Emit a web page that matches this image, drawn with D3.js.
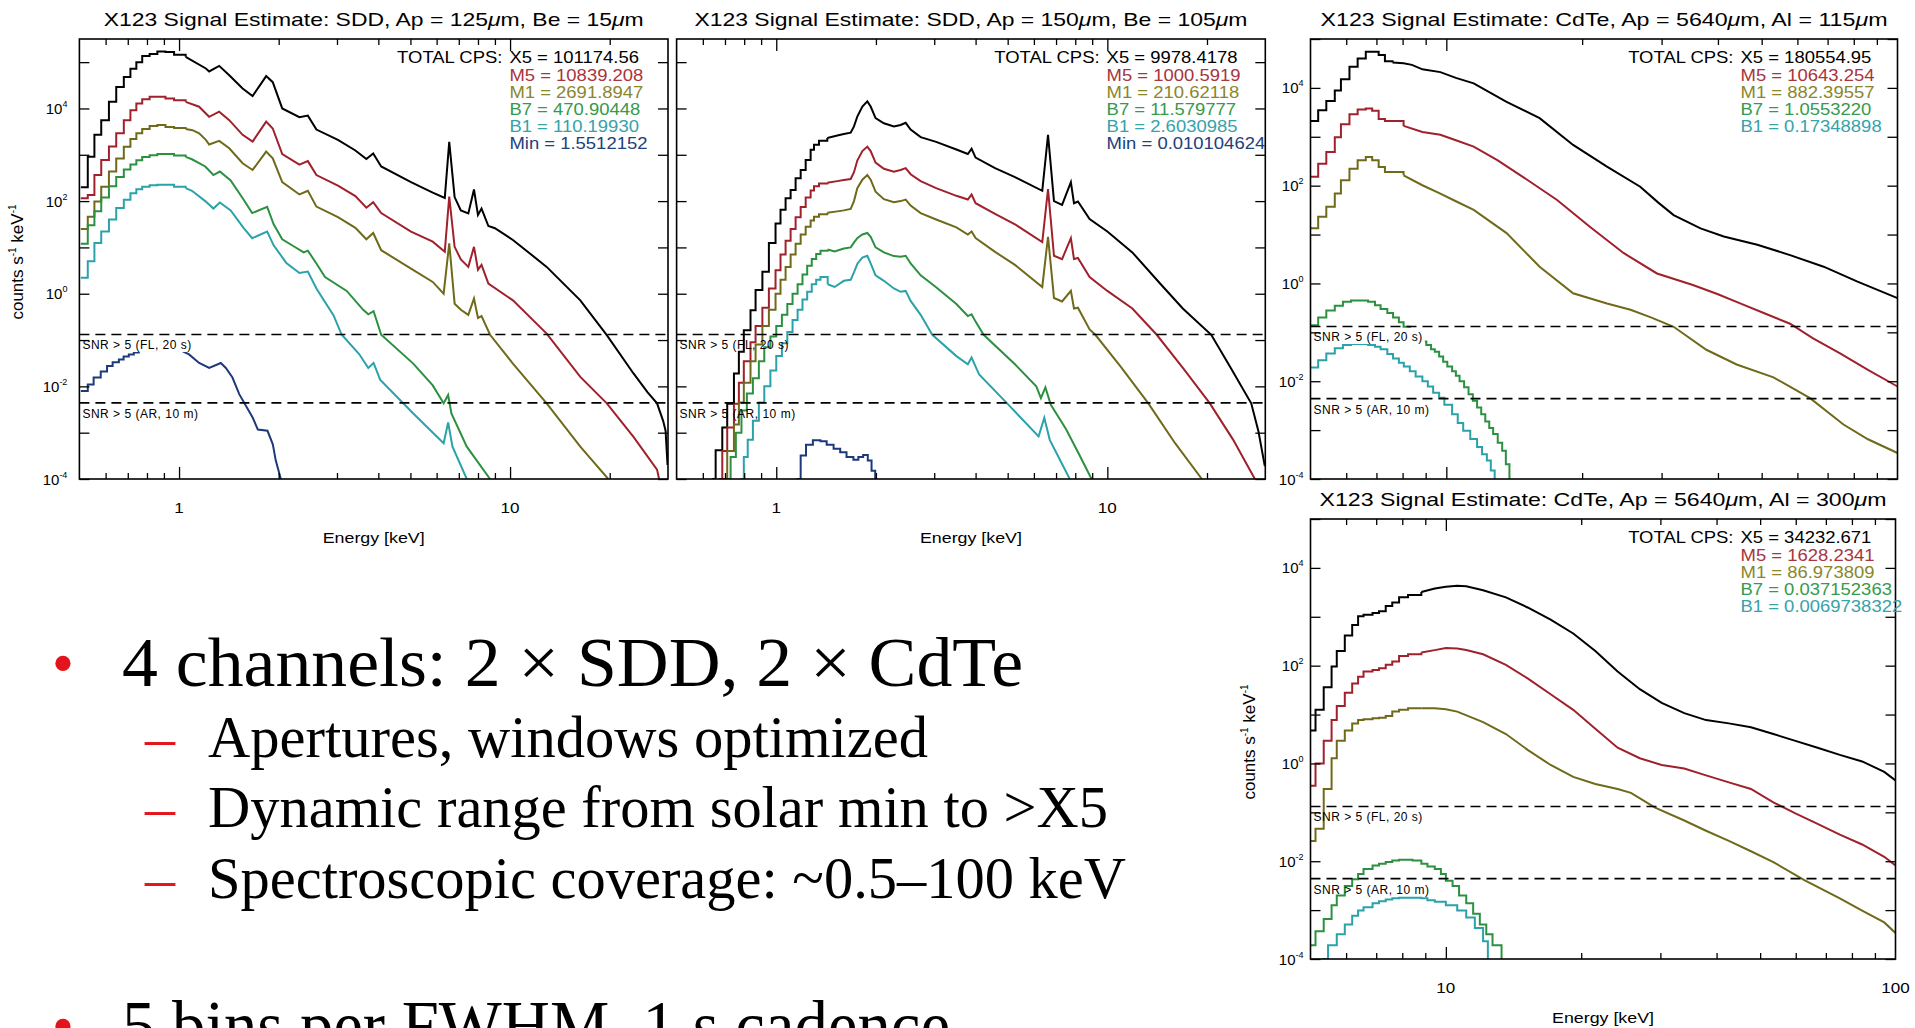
<!DOCTYPE html>
<html>
<head>
<meta charset="utf-8">
<script src="https://cdn.jsdelivr.net/npm/d3@7"></script>
<style>
  body { margin: 0; background: #fff; }
  svg text { font-family: "Liberation Sans", Arial, Helvetica, sans-serif; }
  .slide text { font-family: "Liberation Serif", "Times New Roman", serif; }
</style>
</head>
<body>
<script>
// ---- series names / colours ----
var seriesNames = ['X5', 'M5', 'M1', 'B7', 'B1', 'Min'];
var lineColors = ['#000000', '#a0202c', '#6f6a1a', '#2b9140', '#2aa2aa', '#1c3a7a'];
var textColors = ['#000000', '#a8343c', '#8a862c', '#359a4c', '#36a2aa', '#22407c'];

// ---- total count rates (legend) ----
var sdd1Totals = ['101174.56', '10839.208', '2691.8947', '470.90448', '110.19930', '1.5512152'];
var sdd2Totals = ['9978.4178', '1000.5919', '210.62118', '11.579777', '2.6030985', '0.010104624'];
var cdte1Totals = ['180554.95', '10643.254', '882.39557', '1.0553220', '0.17348898'];
var cdte2Totals = ['34232.671', '1628.2341', '86.973809', '0.037152363', '0.0069738322'];

// ---- titles ----
var sdd1Title = ['X123 Signal Estimate: SDD, Ap = 125', '\u03bc', 'm, Be = 15', '\u03bc', 'm'];
var sdd2Title = ['X123 Signal Estimate: SDD, Ap = 150', '\u03bc', 'm, Be = 105', '\u03bc', 'm'];
var cdte1Title = ['X123 Signal Estimate: CdTe, Ap = 5640', '\u03bc', 'm, Al = 115', '\u03bc', 'm'];
var cdte2Title = ['X123 Signal Estimate: CdTe, Ap = 5640', '\u03bc', 'm, Al = 300', '\u03bc', 'm'];

// ---- axis ticks ----
var sddMajor = [1, 10];
var sddMinor = [0.6, 0.7, 0.8, 0.9, 2, 3, 4, 5, 6, 7, 8, 9, 20];
var cdteMajor = [10];
var cdteMinor = [6, 7, 8, 9, 20, 30, 40, 50, 60, 70, 80, 90];
var sddLabels = [1, 10];
var cdteLabels = [10, 100];
var yTickValues = [1e-4, 1e-3, 1e-2, 1e-1, 1, 10, 1e2, 1e3, 1e4, 1e5];
var yLabelExps = [-4, -2, 0, 2, 4];

// ---- SNR thresholds ----
var snrLevels = [0.132, 0.0044];
var snrLabels = ['SNR > 5 (FL, 20 s)', 'SNR > 5 (AR, 10 m)'];

// ---- SDD, Ap 125um, Be 15um : [keV, counts/s/keV] ----
var sdd1X5 = [[0.505,200],[0.53,910],[0.555,2.7e3],[0.582,5.6e3],[0.614,1.4e4],[0.646,2.9e4],[0.681,4.8e4],[0.713,7.2e4],[0.743,1.0e5],[0.774,1.35e5],[0.815,1.5e5],[0.86,1.7e5],[0.91,1.65e5],[0.966,1.45e5],[1.047,1.3e5],[1.205,7.3e4],[1.233,6.3e4],[1.322,8.3e4],[1.418,5.2e4],[1.556,2.7e4],[1.668,1.85e4],[1.833,5.0e4],[1.919,3.7e4],[2.05,1.0e4],[2.31,6.5e3],[2.45,7.0e3],[2.6,3.5e3],[3.02,2.1e3],[3.41,1.24e3],[3.68,810],[3.86,1.07e3],[4.08,560],[5.02,257],[5.84,152],[6.35,117],[6.55,1.9e3],[6.8,122],[7.1,63],[7.48,54],[7.78,178],[8.0,50],[8.2,69],[8.6,29],[9.0,26],[10.2,14.5],[12.9,3.8],[16.3,0.72],[19.6,0.128],[23.6,0.019],[26,7.5e-3],[27.8,4.3e-3],[29,1.8e-3],[29.5,1.1e-3],[29.9,2e-4]];
var sdd1M5 = [[0.505,115],[0.53,135],[0.555,365],[0.582,775],[0.614,1.5e3],[0.646,2.9e3],[0.681,5.6e3],[0.713,9.2e3],[0.743,1.28e4],[0.774,1.59e4],[0.815,1.78e4],[0.86,1.78e4],[0.91,1.64e4],[0.966,1.51e4],[1.047,1.39e4],[1.15,1.09e4],[1.205,7.8e3],[1.233,6.6e3],[1.322,8.5e3],[1.418,5.6e3],[1.556,2.7e3],[1.668,1.92e3],[1.833,5.2e3],[1.919,3.7e3],[2.05,1.04e3],[2.31,615],[2.45,730],[2.6,365],[3.02,215],[3.41,128],[3.68,72],[3.86,95],[4.08,55],[5.02,22],[5.84,13.3],[6.35,8.1],[6.55,125],[6.8,10.3],[7.1,5.5],[7.48,3.8],[7.78,10.3],[8.0,3.3],[8.2,4.2],[8.6,1.66],[10.2,0.72],[12.9,0.138],[16.3,0.016],[19.6,4.3e-3],[23.6,8.1e-4],[27.8,1.6e-4],[28.2,1e-4]];
var sdd1M1 = [[0.505,25],[0.53,46],[0.555,98],[0.582,205],[0.614,435],[0.646,835],[0.681,1.49e3],[0.713,2.2e3],[0.743,2.9e3],[0.774,3.6e3],[0.815,4.2e3],[0.86,4.4e3],[0.91,4.0e3],[0.966,3.8e3],[1.047,3.6e3],[1.098,3.4e3],[1.15,2.9e3],[1.205,2.1e3],[1.233,1.67e3],[1.322,2.0e3],[1.418,1.38e3],[1.556,655],[1.668,470],[1.833,1.17e3],[1.919,835],[2.05,257],[2.31,139],[2.45,167],[2.6,76],[3.02,45],[3.41,26.5],[3.68,15],[3.86,20.5],[4.08,8.7],[5.02,3.5],[5.84,1.8],[6.3,1.0],[6.55,12.3],[6.8,0.61],[7.1,0.45],[7.48,0.35],[7.78,0.79],[8.0,0.3],[8.2,0.33],[8.7,0.13],[10.2,0.031],[12.9,4.3e-3],[16.3,5e-4],[18,2.2e-4],[19.8,1e-4]];
var sdd1B7 = [[0.505,12],[0.53,30],[0.555,60],[0.582,120],[0.614,210],[0.646,330],[0.681,480],[0.713,620],[0.743,760],[0.774,900],[0.815,980],[0.86,1.04e3],[0.91,1.04e3],[0.966,970],[1.047,900],[1.094,800],[1.2,560],[1.27,365],[1.328,435],[1.432,280],[1.566,108],[1.663,55],[1.846,75],[1.931,31.6],[2.05,15],[2.2,11],[2.38,7.8],[2.45,8.5],[2.6,4.5],[2.76,2.3],[3.21,1.15],[3.6,0.45],[3.73,0.36],[3.87,0.42],[4.08,0.13],[5.1,0.031],[5.84,0.0105],[6.3,4.3e-3],[6.5,6.5e-3],[6.65,2.6e-3],[7.4,5e-4],[8.7,1e-4]];
var sdd1B1 = [[0.505,2.2],[0.53,5],[0.555,12.4],[0.582,22],[0.614,40],[0.646,71],[0.681,107],[0.713,148],[0.743,180],[0.774,205],[0.815,220],[0.86,225],[0.91,225],[0.966,205],[1.047,190],[1.094,167],[1.2,100],[1.27,69],[1.328,93],[1.432,63],[1.566,26.5],[1.663,15.8],[1.846,22],[1.931,11.1],[2.11,4.6],[2.31,2.8],[2.45,3.0],[2.6,1.3],[2.93,0.34],[3.1,0.13],[3.5,0.05],[3.73,0.025],[3.87,0.032],[4.05,0.014],[5.1,2.6e-3],[6.3,5.9e-4],[6.5,1.66e-3],[6.7,5e-4],[7.4,1e-4]];
var sdd1Min = [[0.505,7.9e-3],[0.53,0.011],[0.552,0.0155],[0.58,0.021],[0.606,0.0276],[0.63,0.033],[0.658,0.038],[0.68,0.044],[0.705,0.049],[0.73,0.054],[0.756,0.058],[0.89,0.061],[1.023,0.058],[1.072,0.049],[1.15,0.032],[1.233,0.025],[1.337,0.032],[1.385,0.025],[1.45,0.0155],[1.52,6.8e-3],[1.67,2.1e-3],[1.73,1.17e-3],[1.85,1.1e-3],[1.92,5.6e-4],[1.96,2.5e-4],[2.03,1e-4]];

// ---- SDD, Ap 150um, Be 105um ----
var sdd2X5 = [[0.64,1e-4],[0.656,4.2e-4],[0.687,1.3e-3],[0.711,4.2e-3],[0.745,0.019],[0.771,0.056],[0.798,0.163],[0.836,0.44],[0.866,1.2],[0.908,3.0],[0.95,12.4],[0.995,33],[1.03,65],[1.067,115],[1.105,174],[1.144,310],[1.185,470],[1.227,775],[1.27,1.28e3],[1.30,1.64e3],[1.346,2.0e3],[1.426,2.3e3],[1.529,2.6e3],[1.6,2.8e3],[1.678,3.0e3],[1.717,4.1e3],[1.757,6.7e3],[1.82,1.1e4],[1.884,1.42e4],[1.928,1.1e4],[1.995,6.2e3],[2.114,4.8e3],[2.266,4.1e3],[2.374,4.4e3],[2.46,4.9e3],[2.546,3.5e3],[2.73,2.4e3],[3.04,1.9e3],[3.5,1.3e3],[3.79,1.04e3],[3.89,1.35e3],[4.0,870],[4.58,515],[5.26,330],[6.36,167],[6.62,2.7e3],[6.9,100],[7.3,83],[7.76,257],[7.93,90],[8.15,98],[8.84,41],[10,22],[11.9,7.8],[14.5,1.6],[16.9,0.48],[20.6,0.13],[23.6,0.025],[27.2,4.3e-3],[28.6,1.07e-3],[29.9,1.9e-4]];
var sdd2M5 = [[0.672,1e-4],[0.687,4e-4],[0.711,1.3e-3],[0.745,4.2e-3],[0.771,0.012],[0.798,0.035],[0.836,0.09],[0.866,0.2],[0.908,0.5],[0.95,1.3],[0.995,3.2],[1.03,7],[1.067,14],[1.105,25],[1.144,45],[1.185,75],[1.227,120],[1.27,170],[1.30,210],[1.346,240],[1.426,250],[1.529,270],[1.6,285],[1.678,300],[1.717,420],[1.757,750],[1.82,1.2e3],[1.884,1.5e3],[1.928,1.2e3],[1.995,680],[2.114,500],[2.266,430],[2.374,470],[2.46,515],[2.546,380],[2.73,270],[3.04,190],[3.5,130],[3.79,108],[3.89,139],[4.0,90],[4.58,53],[5.26,31.6],[6.36,13],[6.62,182],[6.9,6.6],[7.3,5.6],[7.76,15.8],[7.93,5.6],[8.15,5.9],[8.84,2.3],[10,1.15],[11.9,0.48],[14.1,0.13],[17,0.024],[20.4,4.3e-3],[24,7e-4],[27.9,1e-4]];
var sdd2M1 = [[0.69,1e-4],[0.711,4e-4],[0.745,1.5e-3],[0.771,4.5e-3],[0.798,0.012],[0.836,0.035],[0.866,0.08],[0.908,0.2],[0.95,0.45],[0.995,1.0],[1.03,2.0],[1.067,3.8],[1.105,7],[1.144,12],[1.185,19],[1.227,28],[1.27,38],[1.30,46],[1.346,52],[1.426,56],[1.529,60],[1.6,63],[1.678,68],[1.717,100],[1.757,190],[1.82,290],[1.884,365],[1.928,290],[1.995,160],[2.114,110],[2.266,95],[2.374,100],[2.46,108],[2.546,80],[2.73,55],[3.04,40],[3.5,27],[3.79,19],[3.89,22],[4.0,16],[4.58,8],[5.26,4.2],[6.36,1.4],[6.62,17],[6.9,0.81],[7.3,0.68],[7.76,1.15],[7.93,0.48],[8.15,0.5],[8.84,0.17],[9.2,0.13],[11,0.026],[13.3,4.3e-3],[16,6e-4],[19.3,1e-4]];
var sdd2B7 = [[0.71,1e-4],[0.728,3e-4],[0.755,1e-3],[0.785,3e-3],[0.815,7e-3],[0.85,0.015],[0.886,0.035],[0.92,0.07],[0.96,0.12],[1.0,0.2],[1.04,0.35],[1.08,0.6],[1.12,1.0],[1.16,1.6],[1.2,2.6],[1.24,4.0],[1.28,5.6],[1.32,7.2],[1.36,8.5],[1.43,9.0],[1.5,8.2],[1.6,9.5],[1.678,10],[1.72,13],[1.76,16],[1.82,19],[1.884,20.5],[1.928,17],[1.995,10],[2.114,7.8],[2.266,6.5],[2.374,6.3],[2.46,6.6],[2.546,4.5],[2.73,2.5],[3.04,1.38],[3.5,0.6],[3.79,0.33],[3.89,0.36],[4.0,0.25],[4.23,0.13],[5.26,0.03],[6.1,0.01],[6.3,5.6e-3],[6.5,9.5e-3],[6.75,4e-3],[7.5,1.2e-3],[8.2,3.5e-4],[8.96,1e-4]];
var sdd2B1 = [[0.78,1e-4],[0.798,3e-4],[0.82,7e-4],[0.85,1.8e-3],[0.886,4.5e-3],[0.92,0.01],[0.96,0.022],[1.0,0.045],[1.04,0.085],[1.08,0.15],[1.12,0.27],[1.16,0.45],[1.2,0.75],[1.24,1.1],[1.28,1.6],[1.32,2.0],[1.36,2.3],[1.43,1.6],[1.5,1.4],[1.6,1.9],[1.678,2.0],[1.72,3.0],[1.76,4.5],[1.82,6.0],[1.884,6.6],[1.928,4.5],[1.995,2.5],[2.114,1.9],[2.266,1.3],[2.374,1.1],[2.46,1.15],[2.546,0.7],[2.73,0.35],[2.96,0.13],[3.5,0.045],[3.79,0.03],[3.89,0.042],[4.1,0.018],[4.98,4.3e-3],[6.2,8.3e-4],[6.45,2.1e-3],[6.7,7e-4],[7.7,1e-4]];
var sdd2Min = [[1.15,1e-4],[1.185,3.2e-4],[1.23,5.5e-4],[1.29,6.9e-4],[1.36,6.5e-4],[1.42,5.5e-4],[1.49,4.5e-4],[1.56,3.8e-4],[1.63,3.0e-4],[1.71,2.6e-4],[1.77,3.0e-4],[1.83,3.3e-4],[1.89,2.5e-4],[1.94,1.5e-4],[1.99,1e-4]];

// ---- CdTe, Ap 5640um, Al 115um ----
var cdte1X5 = [[5.0,2.1e3],[5.2,3.5e3],[5.42,5.4e3],[5.66,8.8e3],[5.84,1.5e4],[6.1,2.7e4],[6.36,4.0e4],[6.63,5.5e4],[6.85,5.5e4],[7.08,4.7e4],[7.31,3.5e4],[7.6,3.3e4],[8.04,3.2e4],[8.39,2.96e4],[8.85,2.4e4],[9.7,2.1e4],[10.5,1.6e4],[11.5,1.24e4],[13.6,5.2e3],[16.1,2.4e3],[19.1,680],[22.7,245],[26.9,95],[29.5,45],[31.9,25],[36.6,13.4],[41.2,9.1],[48.9,6.2],[57.8,3.8],[68.6,2.2],[81.3,1.1],[100,0.5]];
var cdte1M5 = [[5.0,152],[5.2,280],[5.42,490],[5.66,975],[5.84,1.8e3],[6.1,2.9e3],[6.36,3.6e3],[6.63,3.8e3],[6.85,3.4e3],[7.08,2.3e3],[7.31,2.1e3],[8.04,1.67e3],[8.85,1.25e3],[9.7,1.1e3],[10.5,850],[11.5,630],[13,330],[14.8,150],[17.6,51],[20.8,14.5],[24.7,4.2],[29.3,1.6],[35.2,0.93],[40,0.6],[44.8,0.39],[51,0.24],[57.8,0.15],[65,0.075],[74.6,0.037],[86,0.017],[100,7.8e-3]];
var cdte1M1 = [[5.0,13.5],[5.2,23],[5.42,37],[5.66,69],[5.84,129],[6.1,223],[6.36,330],[6.63,385],[6.85,330],[7.08,240],[7.31,190],[8.04,163],[8.85,102],[9.7,69],[10.5,48],[11.5,32],[13.6,10.7],[16.1,2.2],[19.1,0.63],[22.7,0.39],[25.6,0.29],[28.5,0.2],[31.9,0.13],[37.7,0.044],[44,0.022],[53.1,0.012],[64,4.5e-3],[75.9,1.3e-3],[86,6.5e-4],[100,3.4e-4]];
var cdte1B7 = [[5.0,0.14],[5.2,0.2],[5.42,0.28],[5.66,0.35],[5.9,0.42],[6.15,0.45],[6.43,0.45],[6.71,0.42],[6.95,0.36],[7.15,0.3],[7.4,0.25],[7.62,0.2],[7.85,0.16],[8.04,0.13],[8.3,0.1],[8.55,0.08],[8.8,0.065],[9.03,0.055],[9.25,0.045],[9.43,0.04],[9.64,0.032],[9.84,0.025],[10.05,0.02],[10.3,0.016],[10.5,0.013],[10.7,0.01],[10.95,7.5e-3],[11.2,5.4e-3],[11.45,4e-3],[11.7,2.9e-3],[11.95,2.1e-3],[12.2,1.5e-3],[12.45,1.1e-3],[12.7,8.3e-4],[13.0,5.5e-4],[13.3,3.8e-4],[13.55,2e-4],[13.8,1e-4]];
var cdte1B1 = [[5.0,0.019],[5.2,0.027],[5.42,0.037],[5.66,0.047],[5.9,0.055],[6.15,0.058],[6.43,0.058],[6.71,0.055],[6.95,0.051],[7.15,0.045],[7.4,0.036],[7.62,0.029],[7.85,0.024],[8.05,0.02],[8.3,0.016],[8.55,0.0125],[8.85,0.01],[9.1,7.8e-3],[9.35,5.8e-3],[9.64,4.6e-3],[9.9,3.3e-3],[10.3,2.1e-3],[10.6,1.4e-3],[10.9,9.7e-4],[11.3,6.6e-4],[11.7,4.5e-4],[12.0,3.2e-4],[12.3,2.4e-4],[12.55,1.5e-4],[12.8,1e-4]];

// ---- CdTe, Ap 5640um, Al 300um ----
var cdte2X5 = [[5.0,4.7],[5.13,12.5],[5.35,36],[5.57,96],[5.72,200],[5.96,415],[6.19,680],[6.38,1.02e3],[6.56,1.1e3],[6.87,1.2e3],[7.1,1.3e3],[7.35,1.67e3],[7.6,1.96e3],[7.87,2.5e3],[8.24,2.8e3],[8.82,3.2e3],[9.45,3.8e3],[10,4.1e3],[10.6,4.3e3],[11.1,4.2e3],[12.1,3.5e3],[13.6,2.5e3],[15.2,1.55e3],[17.1,870],[19.2,455],[21.5,200],[24.1,76],[27,33],[30.2,17.3],[33.9,10.7],[37.9,7.7],[42.6,6.6],[47.7,5.5],[53.5,4.0],[59.9,2.9],[67.1,2.1],[75.2,1.5],[84.3,1.1],[94.4,0.67],[100,0.45]];
var cdte2M5 = [[5.0,0.35],[5.13,1.0],[5.35,2.9],[5.57,7.7],[5.72,14.9],[5.96,28],[6.19,43],[6.38,59],[6.56,76],[6.87,82],[7.1,89],[7.35,104],[7.6,122],[7.87,158],[8.24,171],[8.82,185],[9.45,208],[10,230],[10.6,225],[11.1,210],[12.1,171],[13.6,104],[15.2,55],[17.1,26],[19.2,12.5],[21.5,5.1],[24.1,2.1],[27,1.28],[30.2,0.93],[33.9,0.79],[37.9,0.57],[42.6,0.41],[47.7,0.3],[53.5,0.16],[59.9,0.095],[67.1,0.058],[75.2,0.035],[84.3,0.022],[94.4,0.0123],[100,8.2e-3]];
var cdte2M1 = [[5.0,0.026],[5.13,0.046],[5.35,0.3],[5.57,1.28],[5.72,2.9],[5.96,4.7],[6.19,6.6],[6.38,7.7],[6.56,8.0],[6.87,8.4],[7.1,8.6],[7.35,9.3],[7.6,11.5],[7.87,12.5],[8.24,13.5],[8.82,13.5],[9.45,13.5],[10,12.9],[10.6,11.5],[12.1,7.0],[13.6,4.0],[15.2,1.9],[17.1,0.93],[19.2,0.53],[21.5,0.38],[24.1,0.3],[25.8,0.25],[29.2,0.125],[33.9,0.068],[37.9,0.042],[42.6,0.026],[47.7,0.016],[53.5,9.6e-3],[62.7,4.1e-3],[75.2,1.74e-3],[84.3,9.8e-4],[94.4,5.6e-4],[100,3.4e-4]];
var cdte2B7 = [[5.0,1.9e-4],[5.13,3.7e-4],[5.35,6.6e-4],[5.57,1.26e-3],[5.72,2.0e-3],[5.96,3.1e-3],[6.19,4.3e-3],[6.38,5.5e-3],[6.56,6.9e-3],[6.87,8.2e-3],[7.1,8.9e-3],[7.35,9.6e-3],[7.6,0.0104],[7.87,0.0107],[8.15,0.0107],[8.43,0.0104],[8.82,8.9e-3],[9.1,7.8e-3],[9.45,6.9e-3],[9.75,5.5e-3],[10,4.0e-3],[10.35,3.1e-3],[10.7,2.0e-3],[11.1,1.38e-3],[11.5,8.4e-4],[11.9,5.1e-4],[12.3,3.2e-4],[12.7,1.9e-4],[13.3,1e-4]];
var cdte2B1 = [[5.3,1e-4],[5.47,1.9e-4],[5.72,3.2e-4],[5.96,5.1e-4],[6.19,7.7e-4],[6.38,9.8e-4],[6.56,1.15e-3],[6.87,1.38e-3],[7.1,1.52e-3],[7.35,1.65e-3],[7.6,1.74e-3],[7.87,1.8e-3],[8.24,1.8e-3],[8.82,1.74e-3],[9.1,1.6e-3],[9.45,1.48e-3],[10,1.26e-3],[10.6,9.8e-4],[11.1,7.1e-4],[11.6,4.3e-4],[12.1,2.3e-4],[12.4,1e-4]];

// ---- slide text ----
var bulletMain = ['4 channels: 2 \u00d7 SDD, 2 \u00d7 CdTe', '5 bins per FWHM, 1 s cadence'];
var bulletSub = ['Apertures, windows optimized', 'Dynamic range from solar min to >X5', 'Spectroscopic coverage: ~0.5\u2013100 keV'];

var W = 1915, H = 1028;
var svg = d3.select('body').append('svg').attr('width', W).attr('height', H);
svg.append('rect').attr('width', W).attr('height', H).attr('fill', '#fff');

var panels = [
  {id: 'sdd1', left: 79.4, top: 39, width: 588.6, height: 440, xDomain: [0.5, 30], yDomain: [1e-4, 3.16e5],
   title: sdd1Title, titleLen: 540, data: [sdd1X5, sdd1M5, sdd1M1, sdd1B7, sdd1B1, sdd1Min], totals: sdd1Totals,
   stepUntil: [1, 1, 1, 1, 1, 1], labelBg: true, major: sddMajor, minor: sddMinor, xLabels: sddLabels,
   yLabels: true, yTitle: true, yLabGap: 12},
  {id: 'sdd2', left: 676.6, top: 39, width: 588.7, height: 440, xDomain: [0.5, 30], yDomain: [1e-4, 3.16e5],
   title: sdd2Title, titleLen: 553, data: [sdd2X5, sdd2M5, sdd2M1, sdd2B7, sdd2B1, sdd2Min], totals: sdd2Totals,
   stepUntil: [1.4, 1.4, 1.4, 1.4, 1.4, 3], labelBg: false, major: sddMajor, minor: sddMinor, xLabels: sddLabels,
   yLabels: false, yTitle: false, yLabGap: 12},
  {id: 'cdte1', left: 1310.5, top: 39, width: 587, height: 440, xDomain: [5, 100], yDomain: [1e-4, 1e5],
   title: cdte1Title, titleLen: 567, data: [cdte1X5, cdte1M5, cdte1M1, cdte1B7, cdte1B1], totals: cdte1Totals,
   stepUntil: [7.4, 7.4, 7.4, 100, 100], labelBg: true, major: cdteMajor, minor: cdteMinor, xLabels: null,
   yLabels: true, yTitle: false, yLabGap: 7},
  {id: 'cdte2', left: 1310.5, top: 519, width: 585, height: 440, xDomain: [5, 100], yDomain: [1e-4, 1e5],
   title: cdte2Title, titleLen: 567, data: [cdte2X5, cdte2M5, cdte2M1, cdte2B7, cdte2B1], totals: cdte2Totals,
   stepUntil: [8.3, 8.3, 8.3, 100, 100], labelBg: false, major: cdteMajor, minor: cdteMinor, xLabels: cdteLabels,
   yLabels: true, yTitle: true, yLabGap: 7}
];

function cleanAxis(sel) {
  sel.select('.domain').remove();
  sel.selectAll('line').attr('stroke', '#000').attr('stroke-width', 1.3);
}

// helvetica-like text, slightly widened like the IDL fonts
function wideText(parent, x, y, str, size, anchor, sx) {
  return parent.append('text')
    .attr('transform', 'translate(' + x + ',' + y + ') scale(' + (sx || 1.12) + ',1)')
    .attr('font-size', size)
    .attr('text-anchor', anchor || 'start')
    .text(str);
}

panels.forEach(function (p) {
  var g = svg.append('g').attr('class', 'panel');
  var right = p.left + p.width, bottom = p.top + p.height;

  var x = d3.scaleLog().domain(p.xDomain).range([p.left, right]);
  var y = d3.scaleLog().domain(p.yDomain).range([bottom, p.top]);

  svg.append('clipPath').attr('id', 'clip-' + p.id)
    .append('rect').attr('x', p.left).attr('y', p.top).attr('width', p.width).attr('height', p.height);

  // curves: histogram steps at low energy, plain line above
  var curves = g.append('g').attr('clip-path', 'url(#clip-' + p.id + ')');
  var stepLine = d3.line().x(function (d) { return x(d[0]); }).y(function (d) { return y(d[1]); }).curve(d3.curveStepAfter);
  var plainLine = d3.line().x(function (d) { return x(d[0]); }).y(function (d) { return y(d[1]); });

  p.data.forEach(function (data, i) {
    var limit = p.stepUntil[i];
    var k = data.findIndex(function (d) { return d[0] >= limit; });
    var stepPart = k === -1 ? data : data.slice(0, k + 1);
    var linePart = k === -1 ? [] : data.slice(k);
    [[stepPart, stepLine], [linePart, plainLine]].forEach(function (part) {
      if (part[0].length < 2) return;
      curves.append('path')
        .attr('d', part[1](part[0]))
        .attr('fill', 'none')
        .attr('stroke', lineColors[i])
        .attr('stroke-width', 2)
        .attr('stroke-linejoin', 'miter');
    });
  });

  // SNR thresholds
  snrLevels.forEach(function (v, i) {
    var ly = y(v);
    var t = g.append('text')
      .attr('x', p.left + 3).attr('y', ly + 15)
      .attr('font-size', 12).attr('letter-spacing', 0.5)
      .text(snrLabels[i]);
    if (p.labelBg) {
      var bb = t.node().getBBox();
      g.insert('rect', function () { return t.node(); })
        .attr('x', bb.x - 1).attr('y', ly + 1.5)
        .attr('width', bb.width + 3).attr('height', 16)
        .attr('fill', '#fff');
    }
    g.append('line')
      .attr('x1', p.left).attr('x2', right).attr('y1', ly).attr('y2', ly)
      .attr('stroke', '#000').attr('stroke-width', 1.6).attr('stroke-dasharray', '10,6');
  });

  // frame
  g.append('rect').attr('x', p.left).attr('y', p.top).attr('width', p.width).attr('height', p.height)
    .attr('fill', 'none').attr('stroke', '#000').attr('stroke-width', 1.6);

  // ticks on all four sides, pointing inwards
  [[d3.axisTop, bottom], [d3.axisBottom, p.top]].forEach(function (a) {
    g.append('g').attr('transform', 'translate(0,' + a[1] + ')')
      .call(a[0](x).tickValues(p.major).tickSize(12).tickFormat(''))
      .call(cleanAxis);
    g.append('g').attr('transform', 'translate(0,' + a[1] + ')')
      .call(a[0](x).tickValues(p.minor).tickSize(6).tickFormat(''))
      .call(cleanAxis);
  });
  var yt = yTickValues.filter(function (v) { return v >= p.yDomain[0] && v <= p.yDomain[1]; });
  [[d3.axisRight, p.left], [d3.axisLeft, right]].forEach(function (a) {
    g.append('g').attr('transform', 'translate(' + a[1] + ',0)')
      .call(a[0](y).tickValues(yt).tickSize(10).tickFormat(''))
      .call(cleanAxis);
  });

  // x tick labels and axis title
  if (p.xLabels) {
    p.xLabels.forEach(function (v) {
      wideText(g, x(v), bottom + 34, String(v), 15.5, 'middle', 1.1);
    });
    wideText(g, (p.left + right) / 2, bottom + 64, 'Energy [keV]', 15.5, 'middle', 1.15);
  }

  // y tick labels: 10^n
  if (p.yLabels) {
    yLabelExps.forEach(function (e) {
      var t = g.append('text')
        .attr('x', p.left - p.yLabGap).attr('y', y(Math.pow(10, e)) + 5.5)
        .attr('font-size', 15).attr('text-anchor', 'end');
      t.append('tspan').text('10');
      t.append('tspan').attr('font-size', 9).attr('dy', -7).text(String(e));
    });
  }

  if (p.yTitle) {
    var yt2 = g.append('text')
      .attr('transform', 'translate(' + (p.left - 56) + ',' + (p.top + p.height / 2 + 3) + ') rotate(-90)')
      .attr('font-size', 17).attr('text-anchor', 'middle');
    yt2.append('tspan').text('counts s');
    yt2.append('tspan').attr('font-size', 10).attr('dy', -7).text('-1');
    yt2.append('tspan').attr('dy', 7).text(' keV');
    yt2.append('tspan').attr('font-size', 10).attr('dy', -7).text('-1');
  }

  // title
  var tt = g.append('text')
    .attr('x', (p.left + right) / 2).attr('y', p.top - 13.4)
    .attr('font-size', 19).attr('text-anchor', 'middle')
    .attr('textLength', p.titleLen).attr('lengthAdjust', 'spacingAndGlyphs');
  p.title.forEach(function (s, i) {
    tt.append('tspan').attr('font-style', i % 2 ? 'italic' : null).text(s);
  });

  // total count legend
  var colX = p.left + 430, base = p.top + 24.3;
  wideText(g, colX - 7, base, 'TOTAL CPS:', 16.5, 'end', 1.12);
  p.totals.forEach(function (t, i) {
    wideText(g, colX, base + i * 17.2, seriesNames[i] + ' = ' + t, 16.5, 'start', 1.12)
      .attr('fill', textColors[i]);
  });
});

// ---- slide bullets ----
var slide = svg.append('g').attr('class', 'slide');
var mainY = [686, 1049], mainLen = [901, 828];
bulletMain.forEach(function (s, i) {
  slide.append('text').attr('x', 63).attr('y', mainY[i] - 1).attr('font-size', 64)
    .attr('text-anchor', 'middle').attr('fill', '#e3141b').text('\u2022');
  slide.append('text').attr('x', 122).attr('y', mainY[i]).attr('font-size', 70)
    .attr('textLength', mainLen[i]).attr('lengthAdjust', 'spacingAndGlyphs').text(s);
});
var subY = [757, 827, 898], subLen = [720, 900, 918];
bulletSub.forEach(function (s, i) {
  slide.append('text').attr('x', 145).attr('y', subY[i]).attr('font-size', 60)
    .attr('fill', '#e3141b').text('\u2013');
  slide.append('text').attr('x', 208).attr('y', subY[i]).attr('font-size', 60)
    .attr('textLength', subLen[i]).attr('lengthAdjust', 'spacingAndGlyphs').text(s);
});
</script>
</body>
</html>
